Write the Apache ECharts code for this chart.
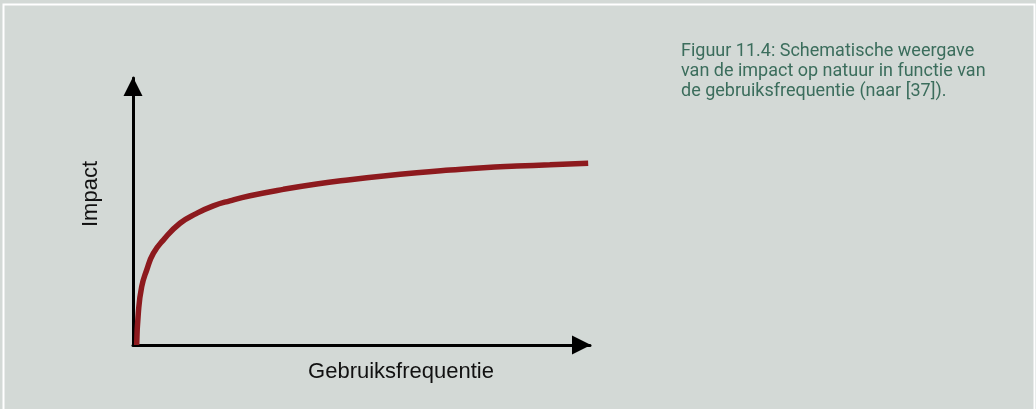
<!DOCTYPE html>
<html lang="nl" style="height: 100%">
<head>
  <meta charset="utf-8">
</head>
<body style="height: 100%; margin: 0; background: #d3d9d6">
  <div id="container" style="width: 1036px; height: 409px"></div>

  <script type="text/javascript" src="https://cdn.jsdelivr.net/npm/echarts@6/dist/echarts.min.js"></script>

  <script type="text/javascript">
    // schematic curve (x and y both on a 0..100 scale)
    const frequency = [0.8, 1.16, 1.9, 3.0, 4.44, 6.63, 10.28, 13.94, 17.57, 21.2, 25.6, 32.9, 40.2, 47.5, 54.8, 62.1, 69.4, 76.7, 84.0, 91.2, 99.6];
    const impact = [0, 11.9, 21.8, 28.1, 34.3, 39.3, 45.6, 49.3, 52.1, 54.0, 55.9, 58.3, 60.3, 61.9, 63.3, 64.5, 65.5, 66.4, 67.0, 67.5, 68.1];
    const xName = 'Gebruiksfrequentie';
    const yName = 'Impact';
    const captionLines = [
      'Figuur 11.4: Schematische weergave',
      'van de impact op natuur in functie van',
      'de gebruiksfrequentie (naar [37]).'
    ];

    var dom = document.getElementById('container');
    var myChart = echarts.init(dom, null, { renderer: 'canvas' });

    const axisLine = {
      show: true,
      symbol: ['none', 'triangle'],
      symbolSize: [19, 19],
      symbolOffset: [0, -8.5],
      lineStyle: { color: '#000', width: 3 }
    };

    var option = {
      backgroundColor: '#d3d9d6',
      animation: false,
      grid: { left: 133, right: 446, top: 78, bottom: 64 },
      xAxis: {
        type: 'value',
        min: 0,
        max: 100,
        axisLine: axisLine,
        axisTick: { show: false },
        axisLabel: { show: false },
        splitLine: { show: false }
      },
      yAxis: {
        type: 'value',
        min: 0,
        max: 100,
        axisLine: axisLine,
        axisTick: { show: false },
        axisLabel: { show: false },
        splitLine: { show: false }
      },
      graphic: [
        {
          type: 'polyline',
          shape: { points: [[3.5, 409], [3.5, 4.5], [1034.5, 4.5], [1034.5, 409]] },
          style: { stroke: '#ffffff', lineWidth: 2, fill: null },
          silent: true
        },
        {
          type: 'text',
          x: 401,
          y: 372,
          style: {
            text: xName,
            font: '22px "Liberation Sans", Arial, sans-serif',
            fill: '#111',
            align: 'center',
            verticalAlign: 'middle'
          }
        },
        {
          type: 'text',
          x: 91,
          y: 194,
          rotation: Math.PI / 2,
          style: {
            text: yName,
            font: '22px "Liberation Sans", Arial, sans-serif',
            fill: '#111',
            align: 'center',
            verticalAlign: 'middle'
          }
        },
        {
          type: 'text',
          x: 681,
          y: 41,
          style: {
            text: captionLines.join('\n'),
            font: '18px Roboto, sans-serif',
            lineHeight: 20,
            fill: '#3b6d5c'
          }
        }
      ],
      series: [
        {
          type: 'line',
          data: frequency.map(function (x, i) {
            return [x, impact[i]];
          }),
          smooth: 0.5,
          showSymbol: false,
          clip: false,
          lineStyle: { color: '#8d1a1e', width: 5.5 }
        }
      ]
    };

    myChart.setOption(option);
    window.addEventListener('resize', myChart.resize);
  </script>
</body>
</html>
